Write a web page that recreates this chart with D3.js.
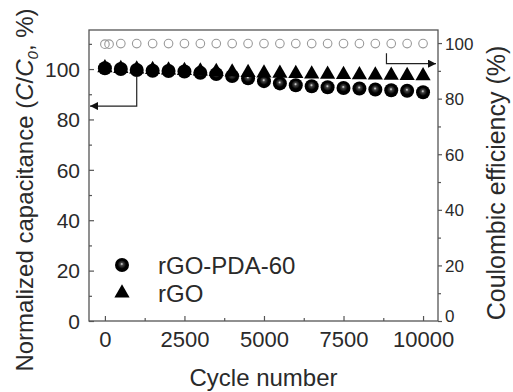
<!DOCTYPE html>
<html><head><meta charset="utf-8">
<script src="https://cdn.jsdelivr.net/npm/d3@7"></script>
<style>body{margin:0;background:#fff}</style>
</head><body>
<svg id="c" width="513" height="392"></svg>
<script>
const cycles = [0,500,1000,1500,2000,2500,3000,3500,4000,4500,5000,5500,6000,6500,7000,7500,8000,8500,9000,9500,10000];
const pda60 = [100.3,100,99.6,99.3,99.2,99,98.5,98,97.2,96.3,95.2,94.3,93.6,93.2,92.8,92.5,92.3,91.9,91.6,91.4,90.8];
const rgo = [100.5,100.2,100,99.8,99.6,99.4,99.2,99,98.8,98.6,98.4,98.3,98.2,98,97.9,97.8,97.7,97.6,97.5,97.4,97.3];
const ceCycles = [0,130,500,1000,1500,2000,2500,3000,3500,4000,4500,5000,5500,6000,6500,7000,7500,8000,8500,9000,9500,10000];
const ceVals = [99.6,99.6,99.8,99.8,99.8,99.8,99.8,99.8,99.8,99.8,99.8,99.8,99.8,99.8,99.8,99.8,99.8,99.8,99.8,99.8,99.8,99.8];
const xTicks = [0,2500,5000,7500,10000];
const yLeftTicks = [0,20,40,60,80,100];
const yRightTicks = [0,20,40,60,80,100];
const legendLabels = ["rGO-PDA-60","rGO"];

const svg = d3.select("#c");
const L=89, R=438, T=30, B=321;
const x = d3.scaleLinear().domain([-500,10470]).range([L,R]);
const yL = d3.scaleLinear().domain([0,115.5]).range([B,T]);
const yR = d3.scaleLinear().domain([0,104.7]).range([B,T]);
const font = "Liberation Sans, Arial, sans-serif";
const axCol = "#555";
const txtCol = "#2a2a2a";

const defs = svg.append("defs");
const g = defs.append("radialGradient").attr("id","sph").attr("cx","0.5").attr("cy","0.5").attr("r","0.55").attr("fx","0.48").attr("fy","0.42");
g.append("stop").attr("offset","0").attr("stop-color","#f0f0f0");
g.append("stop").attr("offset","0.2").attr("stop-color","#444");
g.append("stop").attr("offset","0.55").attr("stop-color","#000");
g.append("stop").attr("offset","1").attr("stop-color","#000");
defs.append("marker").attr("id","arr").attr("viewBox","0 0 10 10").attr("refX",10).attr("refY",5)
  .attr("markerWidth",10).attr("markerHeight",8).attr("orient","auto-start-reverse")
  .attr("markerUnits","userSpaceOnUse")
  .append("path").attr("d","M0,0L10,5L0,10z").attr("fill","#111");

// frame
svg.append("rect").attr("x",L).attr("y",T).attr("width",R-L).attr("height",B-T)
  .attr("fill","none").attr("stroke",axCol).attr("stroke-width",1.3);

// axes
const xAx = svg.append("g").attr("transform",`translate(0,${B})`)
  .call(d3.axisBottom(x).tickValues(xTicks).tickSizeInner(-5).tickSizeOuter(0).tickPadding(10).tickFormat(d3.format("d")));
const xMin = svg.append("g").attr("transform",`translate(0,${B})`)
  .call(d3.axisBottom(x).tickValues(xTicks.slice(0,-1).map(v=>v+1250)).tickSizeInner(-3).tickSizeOuter(0).tickFormat(""));
const yAx = svg.append("g").attr("transform",`translate(${L},0)`)
  .call(d3.axisLeft(yL).tickValues(yLeftTicks).tickSizeInner(-5).tickSizeOuter(0).tickPadding(9));
const yMin = svg.append("g").attr("transform",`translate(${L},0)`)
  .call(d3.axisLeft(yL).tickValues(yLeftTicks.slice(0).map(v=>v+10)).tickSizeInner(-3).tickSizeOuter(0).tickFormat(""));
const rAx = svg.append("g").attr("transform",`translate(${R},0)`)
  .call(d3.axisRight(yR).tickValues(yRightTicks).tickSizeInner(4).tickSizeOuter(0).tickPadding(3));
const rMin = svg.append("g").attr("transform",`translate(${R},0)`)
  .call(d3.axisRight(yR).tickValues(yRightTicks.slice(0,-1).map(v=>v+10)).tickSizeInner(3).tickSizeOuter(0).tickFormat(""));
[xAx,xMin,yAx,yMin,rAx,rMin].forEach(a=>{
  a.select(".domain").remove();
  a.selectAll("line").attr("stroke",axCol).attr("stroke-width",1.2);
  a.selectAll("text").attr("font-family",font).attr("fill",txtCol);
});
xAx.selectAll("text").attr("font-size",22);
yAx.selectAll("text").attr("font-size",21).attr("dy","0.35em");
rAx.selectAll("text").attr("font-size",17).attr("dy","0.35em");
rAx.selectAll("text").filter(d=>d===0).attr("dy","0.05em");

// CE circles
svg.append("g").selectAll("circle").data(ceCycles).join("circle")
  .attr("cx",(d)=>x(d)).attr("cy",(d,i)=>yR(ceVals[i])).attr("r",4.3)
  .attr("fill","none").attr("stroke","#999").attr("stroke-width",1.1);

// spheres
svg.append("g").selectAll("circle").data(cycles).join("circle")
  .attr("cx",d=>x(d)).attr("cy",(d,i)=>yL(pda60[i])).attr("r",7)
  .attr("fill","url(#sph)");
// triangles
const tri = d3.symbol().type(d3.symbolTriangle).size(100);
svg.append("g").selectAll("path").data(cycles).join("path")
  .attr("transform",(d,i)=>`translate(${x(d)},${yL(rgo[i])})`).attr("d",tri).attr("fill","#000");

// arrows
svg.append("path").attr("d",`M${x(1000)},${yL(97)}V${yL(85.3)}H${L+1}`)
  .attr("fill","none").attr("stroke","#222").attr("stroke-width",1.2).attr("marker-end","url(#arr)");
svg.append("path").attr("d",`M${x(8850)},${yR(96.3)}V${yR(92.6)}H${R-2}`)
  .attr("fill","none").attr("stroke","#222").attr("stroke-width",1.2).attr("marker-end","url(#arr)");

// legend
const lg = svg.append("g");
lg.append("circle").attr("cx",122).attr("cy",265).attr("r",7).attr("fill","url(#sph)");
lg.append("path").attr("transform","translate(122,293)").attr("d",tri).attr("fill","#000");
lg.selectAll("text").data(legendLabels).join("text")
  .attr("x",158).attr("y",(d,i)=>265+i*28).attr("dy","0.36em")
  .attr("font-family",font).attr("font-size",24).attr("fill",txtCol).text(d=>d);

// axis titles
svg.append("text").attr("x",(L+R)/2).attr("y",386).attr("text-anchor","middle")
  .attr("font-family",font).attr("font-size",24).attr("fill",txtCol).text("Cycle number");
const lt = svg.append("text").attr("transform","translate(33,190) rotate(-90)").attr("text-anchor","middle")
  .attr("font-family",font).attr("font-size",24).attr("fill",txtCol);
lt.append("tspan").text("Normalized capacitance (");
lt.append("tspan").attr("font-style","italic").text("C");
lt.append("tspan").text("/");
lt.append("tspan").attr("font-style","italic").text("C");
lt.append("tspan").attr("font-style","italic").attr("font-size",15).attr("dy",5).text("0");
lt.append("tspan").attr("dy",-5).text(", %)");
svg.append("text").attr("transform","translate(505,183) rotate(-90)").attr("text-anchor","middle")
  .attr("font-family",font).attr("font-size",25).attr("fill",txtCol).text("Coulombic efficiency (%)");
</script>
</body></html>
